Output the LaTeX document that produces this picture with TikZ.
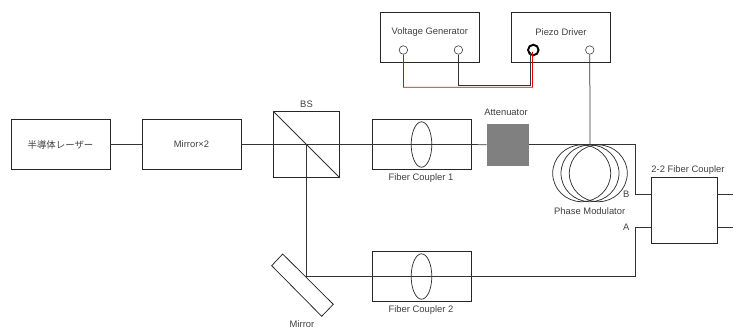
\documentclass[tikz,border=0pt]{standalone}
\usepackage{fontspec}
\setmainfont{Liberation Sans}
\newfontfamily\cjk{Noto Sans CJK JP}
\definecolor{lblgray}{HTML}{404040}
\begin{document}
\begin{tikzpicture}[x=1pt,y=-1pt,
  box/.style={draw=black!85,line width=0.75pt,inner sep=0pt},
  wire/.style={draw=black!80,line width=0.75pt},
  lbl/.style={font=\fontsize{9.4pt}{10pt}\selectfont,text=lblgray,inner sep=0pt},
  port/.style={circle,draw=black!75,line width=0.6pt,fill=white,minimum size=8.5pt,inner sep=0pt}
]
\useasboundingbox (0,0) rectangle (739,329);
\fill[white] (0,0) rectangle (739,329);
% boxes
\node[box,minimum width=99pt,minimum height=50pt] (laser) at (60.5,144.5) {};
\node[lbl] (laserT) at (60.5,144.5) {\cjk 半導体レーザー};
\node[box,minimum width=99pt,minimum height=50pt] (mirr) at (191.5,144.5) {};
\node[lbl] (mirrT) at (191.5,144.5) {Mirror×2};
\node[box,minimum width=66pt,minimum height=66pt] (bs) at (306.5,144.5) {};
\node[lbl] (bsT) at (306.5,104) {BS};
\node[box,minimum width=99pt,minimum height=50pt] (fc1) at (421.5,144.5) {};
\node[lbl] (fc1T) at (421,178.3) {Fiber Coupler 1};
\node[box,minimum width=99pt,minimum height=50pt] (fc2) at (421.5,276.5) {};
\node[lbl] (fc2T) at (421,310.3) {Fiber Coupler 2};
\node[draw=none,fill=black!50,minimum width=42pt,minimum height=42pt,inner sep=0pt] (att) at (507.7,144.8) {};
\node[lbl] (attT) at (506,112) {Attenuator};
\node[box,minimum width=66pt,minimum height=66pt] (cpl) at (684.5,210.7) {};
\node[lbl] (cplT) at (688,169.7) {2-2 Fiber Coupler};
\coordinate (pmT) at (590,144.5);
\coordinate (mir) at (306.5,276.5);
\coordinate (bsc) at (306.5,144.5);
\coordinate (cB) at (635,194.3);
\coordinate (cA) at (635,227.2);
% wires
\draw[wire] (laser.east) -- (mirr.west);
\draw[wire] (mirr.east) -- (bs.west);
\draw[wire] (bs.west) -- (fc1.west);
\draw[wire] (fc1.west) -- (fc1.east);
\draw[wire] (fc1.east) -- (att.west);
\draw[wire] (att.east |- pmT) -- (pmT) -- (cB |- pmT) -- (cB) -- (cpl.west |- cB);
\draw[wire] (bsc) -- (mir) -- (fc2.west);
\draw[wire] (fc2.west) -- (fc2.east) -- (cA |- fc2.east) -- (cA) -- (cpl.west |- cA);
% BS diagonal
\draw[wire] (bs.north west) -- (bs.south east);
% lenses
\draw[wire] (fc1.center) ellipse [x radius=10.3pt,y radius=22.7pt];
\draw[wire] (fc2.center) ellipse [x radius=10.3pt,y radius=22.7pt];
% Mirror
\draw[box] (282.7,254) -- (333.3,304.3) -- (321.7,316.3) -- (271.7,265.7) -- cycle;
\node[lbl,anchor=base] (mirT) at (302,327.8) {Mirror};
% Phase modulator
\draw[wire] (581.7,173.3) ellipse [x radius=29pt,y radius=28.4pt];
\draw[wire] (590,173.3) ellipse [x radius=29pt,y radius=28.4pt];
\draw[wire] (598.3,173.3) ellipse [x radius=29pt,y radius=28.4pt];
\node[lbl] (pmL) at (589.7,211) {Phase Modulator};
\node[lbl] (bL) at (626.3,194.5) {B};
\node[lbl] (aL) at (626.3,227.5) {A};
% coupler outs
\coordinate (o1) at (733,194.3);
\coordinate (o2) at (733,227.2);
\draw[wire] (cpl.east |- o1) -- (o1);
\draw[wire] (cpl.east |- o2) -- (o2);
% top
\node[box,minimum width=99pt,minimum height=49.5pt] (vg) at (429.8,37.3) {};
\node[lbl] (vgT) at (429.8,32) {Voltage Generator};
\node[box,minimum width=99pt,minimum height=49.5pt] (pd) at (561,37.3) {};
\node[lbl] (pdT) at (561,32) {Piezo Driver};
\coordinate (j1) at (403.6,87.3);
\coordinate (j2) at (458.4,85.3);
\coordinate (j3) at (532.4,87.3);
\coordinate (j4) at (530.8,85.3);
\node[port] (v1) at (403.4,50) {};
\node[port] (v2) at (458.4,50) {};
\node[port,draw=black,line width=1.9pt,minimum size=10.5pt] (p1) at (533.3,50) {};
\node[port] (p2) at (589.8,50) {};
\draw[wire] (v2.south) -- (j2) -- (j4) -- (530.8,52);
\draw[draw=red!90!black,line width=0.75pt] (v1.south) -- (j1) -- (j3) -- (532.4,52);
\draw[wire] (p2.south) -- (pmT);
\end{tikzpicture}
\end{document}
